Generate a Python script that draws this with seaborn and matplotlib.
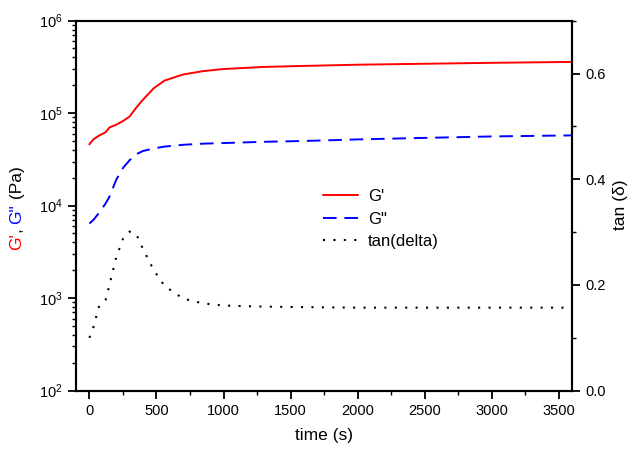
import matplotlib
matplotlib.use("Agg")
import matplotlib.pyplot as plt
from matplotlib.lines import Line2D
from matplotlib.ticker import MultipleLocator
import numpy as np
import pandas as pd
import seaborn as sns

# values
time_s = [0, 30, 70, 120, 150, 200, 250, 300, 350, 400, 480, 560, 700,
          850, 1000, 1300, 1600, 2000, 2500, 3000, 3600]
g_storage = [46000, 52000, 57000, 62000, 70000, 75000, 82000, 92000, 115000,
             140000, 186000, 225000, 262000, 285000, 300000, 316000, 324000,
             334000, 342000, 350000, 358000]
g_loss = [6400, 7000, 8300, 10500, 12500, 19000, 25500, 31000, 36000, 39000,
          41500, 43500, 45500, 46800, 47500, 49000, 50000, 52000, 54000,
          56000, 57500]
tan_delta = [0.100, 0.120, 0.158, 0.171, 0.200, 0.252, 0.287, 0.301, 0.296,
             0.268, 0.228, 0.198, 0.174, 0.165, 0.161, 0.159, 0.158, 0.157,
             0.157, 0.157, 0.157]

df = pd.DataFrame({"time": time_s, "G1": g_storage, "G2": g_loss, "tan": tan_delta})

sns.set_style("ticks", {"axes.edgecolor": "black", "text.color": "black",
                        "xtick.color": "black", "ytick.color": "black",
                        "axes.labelcolor": "black"})
plt.rcParams["font.family"] = ["Liberation Sans", "DejaVu Sans"]
plt.rcParams["mathtext.fontset"] = "custom"
plt.rcParams["mathtext.rm"] = "Liberation Sans"
plt.rcParams["mathtext.it"] = "Liberation Sans:italic"

fig = plt.figure(figsize=(6.33, 4.49), dpi=100)
ax = fig.add_axes([0.120, 0.130, 0.784, 0.824])
ax2 = ax.twinx()

dash = (0, (7, 4))
dot = (0, (1, 4))

sns.lineplot(data=df, x="time", y="G1", ax=ax, color="#ff0000", lw=1.4)
sns.lineplot(data=df, x="time", y="G2", ax=ax, color="#0000ff", lw=1.4,
             linestyle=dash)
sns.lineplot(data=df, x="time", y="tan", ax=ax2, color="black", lw=1.5,
             linestyle=dot)

ax.set_yscale("log")
ax.set_ylim(1e2, 1e6)
ax.set_xlim(-100, 3600)
ax2.set_ylim(0, 0.7)
ax.xaxis.set_major_locator(MultipleLocator(500))
ax.xaxis.set_minor_locator(MultipleLocator(250))
ax2.yaxis.set_major_locator(MultipleLocator(0.2))
ax2.yaxis.set_minor_locator(MultipleLocator(0.1))
ax2.yaxis.set_major_formatter(matplotlib.ticker.FormatStrFormatter("%.1f"))

for a in (ax, ax2):
    for sp in a.spines.values():
        sp.set_linewidth(1.5)
        sp.set_color("black")
        sp.set_visible(True)
    a.tick_params(which="major", direction="out", length=6, width=1.3,
                  labelsize=10.5, colors="black")
    a.tick_params(which="minor", direction="out", length=3, width=1.0,
                  colors="black")
ax.tick_params(axis="x", which="both", top=False)

ax.set_xlabel("time (s)", fontsize=12.5, labelpad=7, color="black")
ax.set_ylabel("")
ax2.set_ylabel("")

# two-colour left label, pieces stacked bottom to top
fig.canvas.draw()
renderer = fig.canvas.get_renderer()
parts = [("G'", "#ff0000"), (", ", "black"), ('G"', "#0000ff"), (" (Pa)", "black")]
y0 = 0.443
for txt, col in parts:
    t = fig.text(0.027, y0, txt, color=col, rotation=90, fontsize=12.5,
                 ha="left", va="center", rotation_mode="anchor")
    bb = t.get_window_extent(renderer)
    y0 += bb.height / fig.bbox.height

fig.text(0.981, 0.545, "tan (δ)", rotation=90, fontsize=12.5, ha="center",
         va="center", color="black")

handles = [Line2D([], [], color="#ff0000", lw=1.4),
           Line2D([], [], color="#0000ff", lw=1.4, linestyle=dash),
           Line2D([], [], color="black", lw=1.5, linestyle=dot)]
leg = ax.legend(handles, ["G'", 'G"', "tan(delta)"], loc="upper left",
                bbox_to_anchor=(0.468, 0.585), frameon=False, fontsize=12,
                handlelength=2.1, handletextpad=0.6, labelspacing=0.45)
for txt in leg.get_texts():
    txt.set_color("black")

fig.savefig("out.png", dpi=100)
